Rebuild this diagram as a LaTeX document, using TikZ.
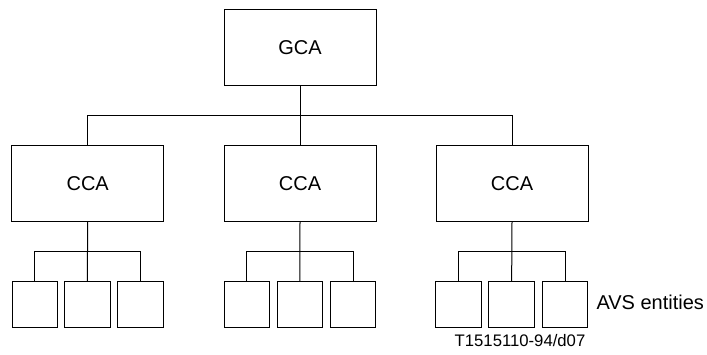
\documentclass[tikz,border=0pt]{standalone}
\usepackage{fontspec}
\setmainfont{Liberation Sans}
\begin{document}
\begin{tikzpicture}[x=1pt,y=-1pt,
  line width=1pt,
  bigbox/.style={draw, minimum width=152pt, minimum height=76pt, inner sep=0pt, font=\fontsize{20}{24}\selectfont},
  smallbox/.style={draw, minimum width=45.7pt, minimum height=46pt, inner sep=0pt}]
\useasboundingbox (0,0) rectangle (707,354);
\node[bigbox, minimum height=75.5pt] (g) at (300,47.25) {GCA};
\node[bigbox] (c1) at (87.7,183.7) {CCA};
\node[bigbox] (c2) at (300,183.7) {CCA};
\node[bigbox] (c3) at (512,183.7) {CCA};
% small boxes
\foreach \n/\x in {a1/34.85,a2/87.3,a3/140.5,b1/246.85,b2/299.85,b3/353,d1/458.65,d2/511.65,d3/565}
  \node[smallbox] (\n) at (\x,304.7) {};
% top bus
\coordinate (busL) at (87.7,115);
\coordinate (busR) at (512,115);
\draw (g.south) -- (c2.north);
\draw (c1.north) -- (busL) -- (busR) -- (c3.north);
% lower buses
\foreach \c/\l/\m/\r in {c1/a1/a2/a3, c2/b1/b2/b3, c3/d1/d2/d3}{
  \coordinate (\c bl) at (\l.north |- 0,251.3);
  \coordinate (\c br) at (\r.north |- 0,251.3);
  \draw (\c.south) -- (\m.north);
  \draw (\l.north) -- (\c bl) -- (\c br) -- (\r.north);
}
\node[anchor=west, inner sep=0pt, font=\fontsize{20}{24}\selectfont] (avs) at (596,302) {AVS entities};
\node[inner sep=0pt, font=\fontsize{16.7}{20}\selectfont] (code) at (520,341) {T1515110-94/d07};
\end{tikzpicture}
\end{document}
